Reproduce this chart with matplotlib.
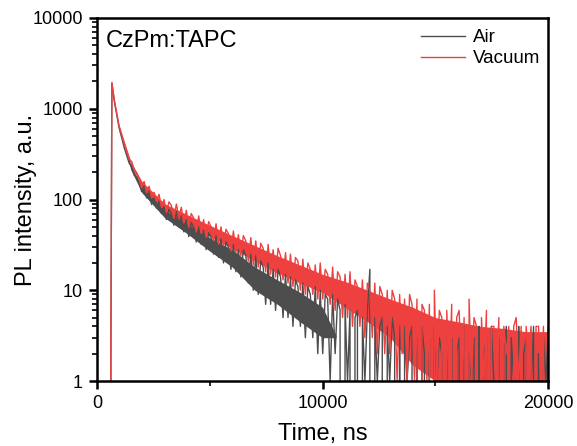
import numpy as np
import matplotlib.pyplot as plt
import matplotlib.ticker as ticker

plt.rcParams['font.family'] = ['Liberation Sans', 'DejaVu Sans']

# time axis (ns): points before the pulse, then 110 ns bins from the peak
t_rise = [0, 590, 615]
t_start = 660
t_bin = 110

air_rise = [0, 0, 2]
vac_rise = [0, 0, 2]

# PL counts (Air)
air = [1900, 1200, 850, 600, 475, 370, 305, 250, 232, 186,
       176, 150, 122, 142, 104, 124, 88, 104, 80, 96,
       70, 84, 60, 78, 70, 52, 74, 50, 66, 44,
       60, 39, 56, 49, 34, 50, 32, 46, 28, 43,
       38, 25, 40, 23, 37, 20, 34, 30, 17, 32,
       16, 28, 14, 28, 24, 12, 25, 10, 24, 9,
       21, 18, 7, 20, 7, 17, 6, 17, 14, 5,
       15, 5, 14, 4, 13, 11, 4, 12, 3, 11,
       9, 3, 11, 2, 10, 2, 9, 8, 1, 9,
       2, 8, 6, 0, 7, 1, 6, 0, 5, 6,
       0, 5, 1, 6, 17, 0, 5, 1, 4, 5,
       0, 4, 1, 5, 3, 0, 4, 0, 4, 1,
       3, 4, 0, 3, 0, 4, 2, 0, 3, 0,
       4, 1, 3, 2, 0, 4, 0, 3, 0, 2,
       3, 0, 4, 0, 2, 1, 3, 0, 4, 0,
       2, 3, 0, 4, 1, 0, 3, 0, 2, 4,
       0, 3, 1, 0, 4, 0, 2, 3, 0, 1,
       4, 0, 2, 0, 3, 1, 4]

# PL counts (Vacuum)
vacuum = [1950, 1250, 890, 630, 505, 405, 335, 276, 262, 212,
          196, 168, 135, 158, 118, 140, 104, 120, 96, 114,
          82, 100, 72, 94, 86, 62, 89, 64, 82, 55,
          76, 49, 70, 62, 44, 66, 42, 60, 38, 57,
          50, 35, 54, 32, 50, 31, 47, 42, 27, 45,
          26, 41, 24, 40, 35, 21, 38, 19, 35, 18,
          33, 29, 16, 32, 15, 28, 14, 29, 24, 13,
          26, 12, 25, 11, 23, 21, 10, 22, 9, 20,
          17, 9, 19, 8, 20, 8, 17, 15, 7, 18,
          6, 16, 14, 5, 15, 5, 16, 4, 13, 11,
          4, 13, 3, 12, 10, 3, 12, 2, 11, 9,
          2, 10, 2, 10, 8, 1, 9, 2, 8, 1,
          9, 7, 1, 8, 0, 7, 6, 1, 7, 0,
          10, 1, 6, 5, 0, 6, 1, 7, 0, 5,
          6, 1, 5, 0, 8, 1, 5, 4, 0, 5,
          1, 6, 0, 4, 4, 1, 5, 0, 4, 2,
          4, 0, 4, 5, 1, 4, 0, 4, 2, 4,
          0, 4, 4, 1, 4, 0, 4]

# dense core of each noisy trace (lower / upper edge), read at 1 us steps
t_band_air = [1000, 1500, 2000, 3000, 4000, 5000, 6000, 7000, 8000, 9000, 10000, 10600]
air_lo = [575, 212, 118, 63, 42, 27, 18, 10, 7, 4.5, 3, 3]
air_hi = [610, 238, 138, 78, 55, 38, 28, 18, 13, 9.5, 6.5, 3.2]

t_band_vac = [1000, 1500, 2000, 3000, 4000, 5000, 6000, 7000, 8000, 9000, 10000,
              11000, 12000, 13000, 14000, 15000, 16000, 17000, 18000, 19000, 20000]
vac_lo = [610, 238, 138, 76, 53, 39, 29, 21, 15.5, 12, 9.5,
          6.5, 4.5, 3, 1.5, 1, 1, 1, 1, 1, 1]
vac_hi = [640, 262, 157, 90, 68, 52, 40, 31, 24, 19, 15,
          12.5, 10, 8, 6.5, 5, 4.5, 4, 3.8, 3.5, 3.5]

t_air = np.concatenate([t_rise, t_start + t_bin * np.arange(len(air))])
t_vac = np.concatenate([t_rise, t_start + t_bin * np.arange(len(vacuum))])
y_air = np.concatenate([air_rise, air])
y_vac = np.concatenate([vac_rise, vacuum])

air_color = '#4d4d4d'
vac_color = '#ef4040'

fig = plt.figure(figsize=(5.77, 4.46), dpi=100)
ax = fig.add_axes([97 / 577, 65 / 446, 451 / 577, 363 / 446])

ax.fill_between(t_band_air, air_lo, air_hi, color=air_color, lw=0)
ax.plot(t_air, y_air, color=air_color, lw=1.0, label='Air')
ax.fill_between(t_band_vac, vac_lo, vac_hi, color=vac_color, lw=0)
ax.plot(t_vac, y_vac, color=vac_color, lw=1.0, label='Vacuum')

ax.set_yscale('log', nonpositive='clip')
ax.set_xlim(0, 20000)
ax.set_ylim(1, 10000)

ax.set_xticks([0, 10000, 20000])
ax.xaxis.set_minor_locator(ticker.FixedLocator([5000, 15000]))
ax.yaxis.set_major_formatter(ticker.FuncFormatter(lambda v, p: f'{v:g}'))
ax.yaxis.set_minor_formatter(ticker.NullFormatter())

ax.tick_params(which='major', direction='out', length=6, width=1.8, labelsize=13, pad=4)
ax.tick_params(which='minor', direction='out', length=3.5, width=1.2)
for s in ax.spines.values():
    s.set_linewidth(1.8)

ax.set_xlabel('Time, ns', fontsize=17, labelpad=8)
ax.set_ylabel('PL intensity, a.u.', fontsize=17)
ax.yaxis.set_label_coords(-0.133, 0.5)

ax.text(0.02, 0.92, 'CzPm:TAPC', transform=ax.transAxes, fontsize=17, va='baseline')

ax.legend(loc='upper right', bbox_to_anchor=(1.008, 1.0), frameon=False, fontsize=13.5,
          handlelength=2.3, handletextpad=0.45, labelspacing=0.2, borderaxespad=0.2)

fig.savefig('out.png', dpi=100)
